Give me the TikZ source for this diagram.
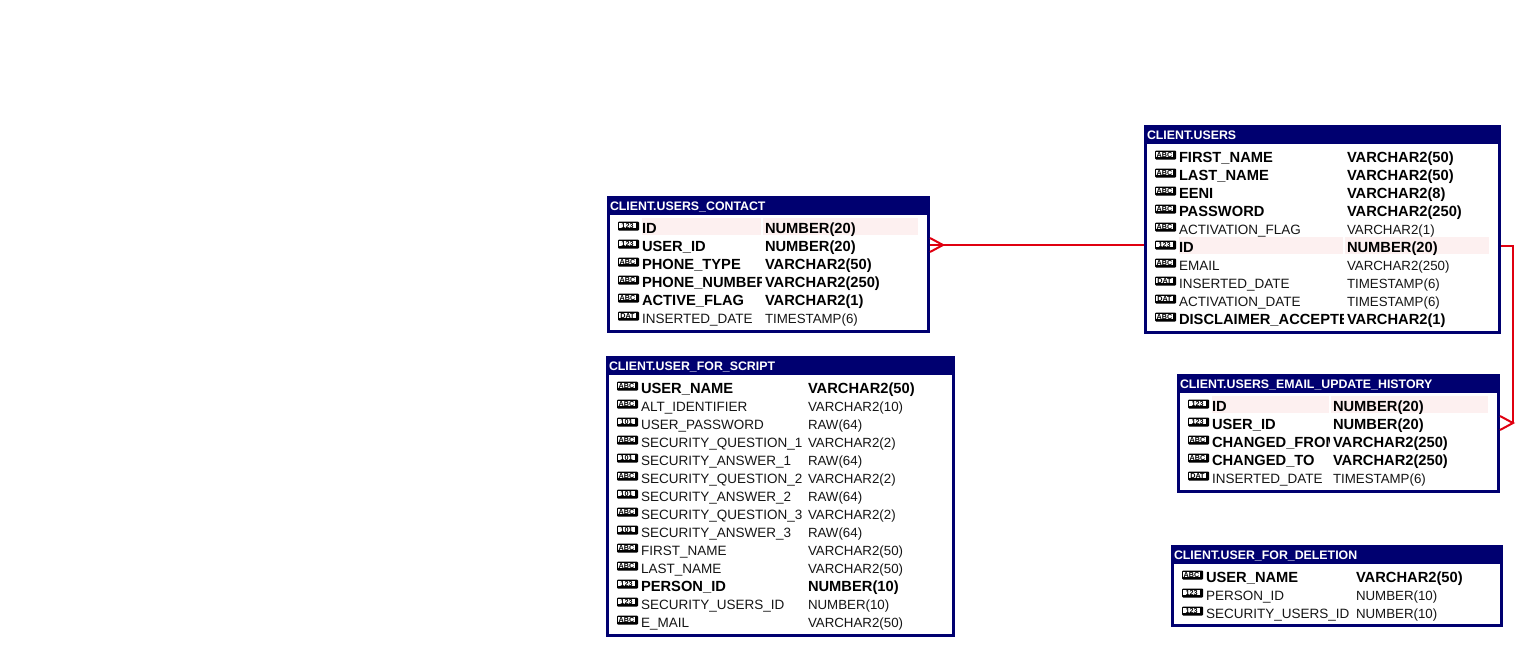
\documentclass[tikz,border=0pt]{standalone}
\usepackage{fontspec}
\setmainfont{Liberation Sans}
\usetikzlibrary{calc}
\definecolor{dbnavy}{HTML}{000070}
\definecolor{dbpink}{HTML}{FDF0F0}
\definecolor{dbred}{HTML}{E00010}
\definecolor{dbtext}{HTML}{151515}
\newcount\dbn
\def\fN{\fontsize{13.5}{16}\selectfont\color{dbtext}}
\def\fT{\fontsize{13.3}{16}\selectfont\color{dbtext}}
\def\fB{\fontsize{14.7}{16}\selectfont\bfseries\color{black}}
\tikzset{
  x=1pt,y=-1pt,
  tablebox/.style={fill=dbnavy,inner sep=0pt,outer sep=0pt,anchor=north west},
  tabletitle/.style={text=white,inner sep=0pt,outer sep=0pt,anchor=base west,font=\fontsize{12.35}{14}\selectfont\bfseries},
  coltext/.style={inner sep=0pt,outer sep=0pt,anchor=base west},
  iconback/.style={fill=black,inner sep=0pt,outer sep=0pt,anchor=north west,minimum width=21pt,minimum height=9pt,rounded corners=1pt},
  iconfront/.style={fill=white,inner sep=0pt,outer sep=0pt,minimum width=17pt,minimum height=5.6pt,text height=4.8pt,text depth=0pt,font=\fontsize{7.2}{7}\selectfont\bfseries,text=black},
  rel/.style={draw=dbred,line width=2pt},
}
% id, x1, y1, x2, y2, title bottom, title
\newcommand{\dbtable}[7]{%
  \pgfmathsetmacro{\dbw}{#4-#2}\pgfmathsetmacro{\dbh}{#5-#3}%
  \node[tablebox,minimum width=\dbw pt,minimum height=\dbh pt] (#1) at (#2,#3) {};
  \fill[white] (#2+3,#6) rectangle (#4-3,#5-3);
  \node[tabletitle] (#1-title) at (#2+3,#3+14.5) {#7};
  \gdef\dbid{#1}\global\dbn=0
}
\newcommand{\dbcols}[3]{\gdef\dbxn{#1}\gdef\dbxt{#2}\gdef\dbbase{#3}}
% icon, name, type, name font, type font
\newcommand{\dbrow}[5]{%
  \global\advance\dbn by 1
  \pgfmathsetmacro{\dbb}{\dbbase+18*(\the\dbn-1)}%
  \coordinate (\dbid-\the\dbn) at (\dbxt,\dbb-6);
  \node[iconback] (\dbid-\the\dbn-back) at (\dbxn-24,\dbb-11.5) {};
  \node[iconfront] (\dbid-\the\dbn-icon) at (\dbxn-14.5,\dbb-7.4) {#1};
  \begin{scope}
    \clip (\dbxn-2,\dbb-14) rectangle (\dbxt-4,\dbb+6);
    \node[coltext,font=#4] (\dbid-\the\dbn-name) at (\dbxn,\dbb) {#2};
  \end{scope}
  \node[coltext,font=#5] (\dbid-\the\dbn-type) at (\dbxt,\dbb) {#3};
}
\newcommand{\Y}[3]{\dbrow{#1}{#2}{#3}{\fN}{\fT}}
\newcommand{\B}[3]{\dbrow{#1}{#2}{#3}{\fB}{\fB}}
% pink key row: icon, name, type, right end of highlight
\newcommand{\K}[4]{%
  \pgfmathsetmacro{\dbk}{\dbbase+18*\the\dbn}%
  \fill[dbpink] (\dbxn,\dbk-15) rectangle (\dbxt-4,\dbk+2);
  \fill[dbpink] (\dbxt-2,\dbk-15) rectangle (#4,\dbk+2);
  \dbrow{#1}{#2}{#3}{\fB}{\fB}
}
\begin{document}
\begin{tikzpicture}
\useasboundingbox (0,0) rectangle (1527,649);
\fill[white] (0,0) rectangle (1527,649);

\dbtable{contact}{607}{196}{930}{333}{215}{CLIENT.USERS\_CONTACT}
\dbcols{642}{765}{233}
\K{123}{ID}{NUMBER(20)}{918}
\B{123}{USER\_ID}{NUMBER(20)}
\B{ABC}{PHONE\_TYPE}{VARCHAR2(50)}
\B{ABC}{PHONE\_NUMBER}{VARCHAR2(250)}
\B{ABC}{ACTIVE\_FLAG}{VARCHAR2(1)}
\Y{DAT}{INSERTED\_DATE}{TIMESTAMP(6)}

\dbtable{users}{1144}{125}{1501}{334}{144}{CLIENT.USERS}
\dbcols{1179}{1347}{162}
\B{ABC}{FIRST\_NAME}{VARCHAR2(50)}
\B{ABC}{LAST\_NAME}{VARCHAR2(50)}
\B{ABC}{EENI}{VARCHAR2(8)}
\B{ABC}{PASSWORD}{VARCHAR2(250)}
\Y{ABC}{ACTIVATION\_FLAG}{VARCHAR2(1)}
\K{123}{ID}{NUMBER(20)}{1489}
\Y{ABC}{EMAIL}{VARCHAR2(250)}
\Y{DAT}{INSERTED\_DATE}{TIMESTAMP(6)}
\Y{DAT}{ACTIVATION\_DATE}{TIMESTAMP(6)}
\B{ABC}{DISCLAIMER\_ACCEPTED}{VARCHAR2(1)}

\dbtable{script}{606}{356}{955}{637}{375}{CLIENT.USER\_FOR\_SCRIPT}
\dbcols{641}{808}{393}
\B{ABC}{USER\_NAME}{VARCHAR2(50)}
\Y{ABC}{ALT\_IDENTIFIER}{VARCHAR2(10)}
\Y{101}{USER\_PASSWORD}{RAW(64)}
\Y{ABC}{SECURITY\_QUESTION\_1}{VARCHAR2(2)}
\Y{101}{SECURITY\_ANSWER\_1}{RAW(64)}
\Y{ABC}{SECURITY\_QUESTION\_2}{VARCHAR2(2)}
\Y{101}{SECURITY\_ANSWER\_2}{RAW(64)}
\Y{ABC}{SECURITY\_QUESTION\_3}{VARCHAR2(2)}
\Y{101}{SECURITY\_ANSWER\_3}{RAW(64)}
\Y{ABC}{FIRST\_NAME}{VARCHAR2(50)}
\Y{ABC}{LAST\_NAME}{VARCHAR2(50)}
\B{123}{PERSON\_ID}{NUMBER(10)}
\Y{123}{SECURITY\_USERS\_ID}{NUMBER(10)}
\Y{ABC}{E\_MAIL}{VARCHAR2(50)}

\dbtable{history}{1177}{374}{1500}{493}{393}{CLIENT.USERS\_EMAIL\_UPDATE\_HISTORY}
\dbcols{1212}{1333}{411}
\K{123}{ID}{NUMBER(20)}{1488}
\B{123}{USER\_ID}{NUMBER(20)}
\B{ABC}{CHANGED\_FROM}{VARCHAR2(250)}
\B{ABC}{CHANGED\_TO}{VARCHAR2(250)}
\Y{DAT}{INSERTED\_DATE}{TIMESTAMP(6)}

\dbtable{deletion}{1171}{545}{1503}{627}{564}{CLIENT.USER\_FOR\_DELETION}
\dbcols{1206}{1356}{582}
\B{ABC}{USER\_NAME}{VARCHAR2(50)}
\Y{123}{PERSON\_ID}{NUMBER(10)}
\Y{123}{SECURITY\_USERS\_ID}{NUMBER(10)}

% relation USERS -> USERS_CONTACT
\coordinate (contactEnd) at (contact-2 -| contact.east);
\coordinate (contactApex) at ([xshift=13pt]contactEnd);
\draw[rel] (contact-2 -| users.west) -- (contactEnd);
\draw[rel] ([yshift=7pt]contactEnd) -- (contactApex) -- ([yshift=-7pt]contactEnd);
% relation USERS -> USERS_EMAIL_UPDATE_HISTORY
\coordinate (historyEnd) at (history-2 -| history.east);
\coordinate (historyApex) at ([xshift=13pt]historyEnd);
\coordinate (usersExit) at (users-6 -| users.east);
\draw[rel] (usersExit) -- (usersExit -| historyApex) -- (historyApex);
\draw[rel] ([yshift=7pt]historyEnd) -- (historyApex) -- ([yshift=-7pt]historyEnd);
\end{tikzpicture}
\end{document}
